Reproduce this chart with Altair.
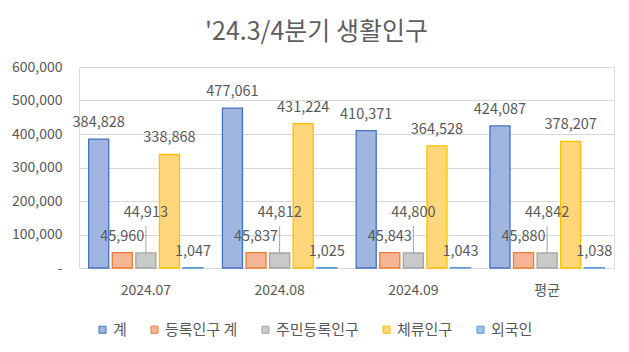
import altair as alt
import pandas as pd

months = ["2024.07", "2024.08", "2024.09", "평균"]
series = ["계", "등록인구 계", "주민등록인구", "체류인구", "외국인"]
total = [384828, 477061, 410371, 424087]
registered = [45960, 45837, 45843, 45880]
resident = [44913, 44812, 44800, 44842]
stay = [338868, 431224, 364528, 378207]
foreign = [1047, 1025, 1043, 1038]
y_ticks = [0, 100000, 200000, 300000, 400000, 500000, 600000]

fills = ["#A1B5E1", "#F6B597", "#C9C9C9", "#FFD77A", "#9DC3E6"]
strokes = ["#4472C4", "#ED7D31", "#A5A5A5", "#FFC000", "#5B9BD5"]

rows = []
for i, m in enumerate(months):
    for s, vals in zip(series, [total, registered, resident, stay, foreign]):
        rows.append({"month": m, "series": s, "value": vals[i]})
df = pd.DataFrame(rows)

FONT = "Noto Sans CJK KR"
TXT = "#595959"

x = alt.X("month:N", sort=months,
          scale=alt.Scale(paddingInner=0.12, paddingOuter=0.06),
          axis=alt.Axis(title=None, labelAngle=0, ticks=False, domainColor="#D9D9D9",
                        labelPadding=15, labelFontSize=14, labelColor=TXT, grid=False,
                        labelFont=FONT))
xo = alt.XOffset("series:N", sort=series,
                 scale=alt.Scale(paddingInner=0.15, paddingOuter=0.07))
y = alt.Y("value:Q", scale=alt.Scale(domain=[0, 600000], nice=False),
          axis=alt.Axis(title=None, values=y_ticks,
                        labelExpr="datum.value == 0 ? '-' : format(datum.value, ',')",
                        ticks=False, domain=False, gridColor="#D9D9D9",
                        labelPadding=17, labelFontSize=14, labelColor=TXT, labelFont=FONT))

legend = alt.Legend(title=None, orient="none", legendX=16, legendY=255, direction="horizontal",
                    symbolType="square", symbolSize=50, symbolStrokeWidth=1,
                    labelFontSize=15, labelColor=TXT, labelFont=FONT,
                    columnPadding=20, labelOffset=3)

base = alt.Chart(df)

bars = base.mark_bar(strokeWidth=1.3).encode(
    x=x, xOffset=xo, y=y,
    color=alt.Color("series:N", sort=series, scale=alt.Scale(domain=series, range=fills), legend=legend),
    stroke=alt.Stroke("series:N", sort=series, scale=alt.Scale(domain=series, range=strokes), legend=legend),
)

labels = base.transform_filter(alt.datum.series != "주민등록인구").mark_text(
    dy=-16, baseline="middle", fontSize=14.5, color=TXT, font=FONT
).encode(x=x, xOffset=xo, y=y, text=alt.Text("value:Q", format=","))

gray_labels = base.transform_filter(alt.datum.series == "주민등록인구").mark_text(
    dy=-40, baseline="middle", fontSize=14.5, color=TXT, font=FONT
).encode(x=x, xOffset=xo, y=y, text=alt.Text("value:Q", format=","))

leader = base.transform_filter(alt.datum.series == "주민등록인구").mark_rule(
    color="#A5A5A5", strokeWidth=1, y2Offset=-27
).encode(x=x, xOffset=xo, y=y, y2=alt.Y2("value:Q"))

chart = alt.layer(bars, leader, labels, gray_labels).properties(
    width=535, height=201,
    title=alt.TitleParams("'24.3/4분기 생활인구", fontSize=25, color="#5F5F5F", font=FONT,
                          fontWeight="normal", anchor="middle", dx=-30, dy=26, offset=16,
                          baseline="bottom"),
    autosize=alt.AutoSizeParams(type="none"),
    padding={"left": 79, "top": 67, "right": 15, "bottom": 84},
).configure_view(stroke=None).configure(font=FONT)

chart.save("out.html", embed_options={"renderer": "svg", "actions": False})
